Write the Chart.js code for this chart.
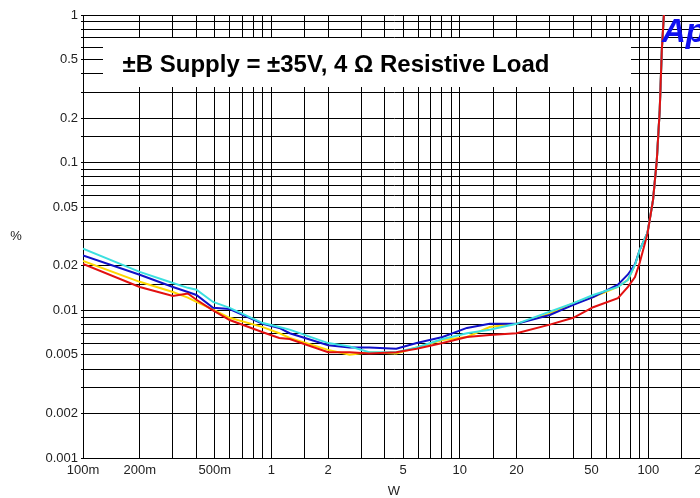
<!DOCTYPE html>
<html>
<head>
<meta charset="utf-8">
<script src="https://cdn.jsdelivr.net/npm/chart.js@4/dist/chart.umd.min.js"></script>
<style>
  html, body { margin: 0; padding: 0; background: #fff; overflow: hidden; width: 700px; height: 498px; }
  canvas { display: block; }
</style>
</head>
<body>
<canvas id="thd" width="720" height="498"></canvas>
<script>
// THD+N vs output power, four channels
const watts  = [0.1, 0.2, 0.3, 0.36, 0.4, 0.49, 0.6, 0.9, 1.1, 1.25, 2.0, 2.6, 3.3, 4.6, 5.9, 8.1, 10.9, 14.4, 20, 30, 40, 51, 69, 78, 85, 90, 99, 106, 111, 115, 118, 121, 125];
const cyanPct   = [0.0262, 0.0182, 0.0153, 0.0142, 0.0138, 0.0114, 0.0104, 0.0082, 0.0077, 0.0074, 0.0060, 0.0057, 0.0052, 0.0052, 0.0056, 0.0064, 0.0070, 0.0074, 0.0081, 0.0098, 0.0112, 0.0127, 0.0144, 0.0161, 0.0203, 0.0256, 0.0334, 0.056, 0.104, 0.227, 0.58, 1.0, 1.6];
const bluePct   = [0.0235, 0.0174, 0.0144, 0.0133, 0.0127, 0.0104, 0.0102, 0.0081, 0.0076, 0.0070, 0.0058, 0.0056, 0.0056, 0.0055, 0.0060, 0.0066, 0.0076, 0.0081, 0.0081, 0.0093, 0.0109, 0.0123, 0.0149, 0.0175, 0.0205, 0.0256, 0.0334, 0.056, 0.104, 0.227, 0.58, 1.0, 1.6];
const yellowPct = [0.0216, 0.0156, 0.0133, 0.0122, 0.0114, 0.0101, 0.0089, 0.0077, 0.0070, 0.0065, 0.0054, 0.0050, 0.0052, 0.0051, 0.0056, 0.0063, 0.0066, 0.0077, 0.0081, 0.0095, 0.0112, 0.0123, 0.0144, 0.0161, 0.0203, 0.0256, 0.0334, 0.056, 0.104, 0.227, 0.58, 1.0, 1.6];
const redPct    = [0.0206, 0.0144, 0.0125, 0.0130, 0.0118, 0.0100, 0.0086, 0.0071, 0.0065, 0.0064, 0.0052, 0.0052, 0.0051, 0.0052, 0.0055, 0.0060, 0.0066, 0.0068, 0.0070, 0.0080, 0.0089, 0.0105, 0.0121, 0.0144, 0.0168, 0.0209, 0.033, 0.056, 0.104, 0.227, 0.58, 1.0, 1.6];

const xTickValues = [0.1, 0.2, 0.5, 1, 2, 5, 10, 20, 50, 100, 200];
const xTickLabels = ['100m', '200m', '500m', '1', '2', '5', '10', '20', '50', '100', '200'];
const yTickValues = [1, 0.5, 0.2, 0.1, 0.05, 0.02, 0.01, 0.005, 0.002, 0.001];
const yTickLabels = ['1', '0.5', '0.2', '0.1', '0.05', '0.02', '0.01', '0.005', '0.002', '0.001'];

const titleText = '\u00b1B Supply = \u00b135V, 4 \u03a9 Resistive Load';
const FONT = "'Liberation Sans', Arial, Helvetica, sans-serif";

function labelFor(values, labels) {
  return function (v) {
    for (let i = 0; i < values.length; i++) {
      if (Math.abs(Math.log10(v) - Math.log10(values[i])) < 1e-6) return labels[i];
    }
    return '';
  };
}

function series(vals, color) {
  return {
    data: watts.map((w, i) => ({ x: w, y: vals[i] })),
    borderColor: color,
    borderWidth: 2,
    pointRadius: 0,
    tension: 0,
    fill: false
  };
}

const decorations = {
  id: 'decorations',
  beforeDatasetsDraw(chart) {
    const ctx = chart.ctx;
    ctx.save();
    // caption panel over the upper grid
    ctx.fillStyle = '#fff';
    ctx.fillRect(103, 38, 528, 49);
    ctx.fillStyle = '#000';
    ctx.font = 'bold 24px ' + FONT;
    ctx.textAlign = 'center';
    ctx.textBaseline = 'alphabetic';
    ctx.fillText(titleText, 336, 72);
    ctx.restore();
  },
  afterDraw(chart) {
    const ctx = chart.ctx;
    const area = chart.chartArea;
    ctx.save();
    ctx.fillStyle = '#222';
    ctx.font = '13px ' + FONT;
    ctx.textAlign = 'center';
    ctx.textBaseline = 'middle';
    ctx.fillText('%', 16, (area.top + area.bottom) / 2);
    ctx.fillText('W', (area.left + area.right) / 2, 491);
    // logo mark
    ctx.fillStyle = '#1010f0';
    ctx.font = 'italic bold 33px ' + FONT;
    ctx.textAlign = 'left';
    ctx.textBaseline = 'alphabetic';
    ctx.fillText('Ap', 662, 42);
    ctx.restore();
  }
};

new Chart(document.getElementById('thd'), {
  type: 'line',
  data: {
    datasets: [
      series(redPct, '#e21010'),
      series(cyanPct, '#3ce0e0'),
      series(bluePct, '#1010c8'),
      series(yellowPct, '#ffd800')
    ]
  },
  options: {
    responsive: false,
    animation: false,
    devicePixelRatio: 1,
    layout: { padding: { left: 0, top: 15, right: 15, bottom: 0 } },
    plugins: { legend: { display: false }, tooltip: { enabled: false } },
    scales: {
      x: {
        type: 'logarithmic',
        min: 0.1,
        max: 200,
        grid: { color: '#000', lineWidth: 1, drawTicks: false },
        border: { color: '#000', width: 1 },
        ticks: {
          autoSkip: false, maxRotation: 0, minRotation: 0, padding: 5,
          color: '#222', font: { family: FONT, size: 13 },
          callback: labelFor(xTickValues, xTickLabels)
        },
        afterFit(s) { s.height = 40; s.paddingLeft = 0; s.paddingRight = 0; }
      },
      y: {
        type: 'logarithmic',
        min: 0.001,
        max: 1,
        grid: { color: '#000', lineWidth: 1, tickLength: 2 },
        border: { color: '#000', width: 1 },
        ticks: {
          autoSkip: false, padding: 3,
          color: '#222', font: { family: FONT, size: 13 },
          callback: labelFor(yTickValues, yTickLabels)
        },
        afterFit(s) { s.width = 83; s.paddingTop = 0; s.paddingBottom = 0; }
      }
    }
  },
  plugins: [decorations]
});
</script>
</body>
</html>
